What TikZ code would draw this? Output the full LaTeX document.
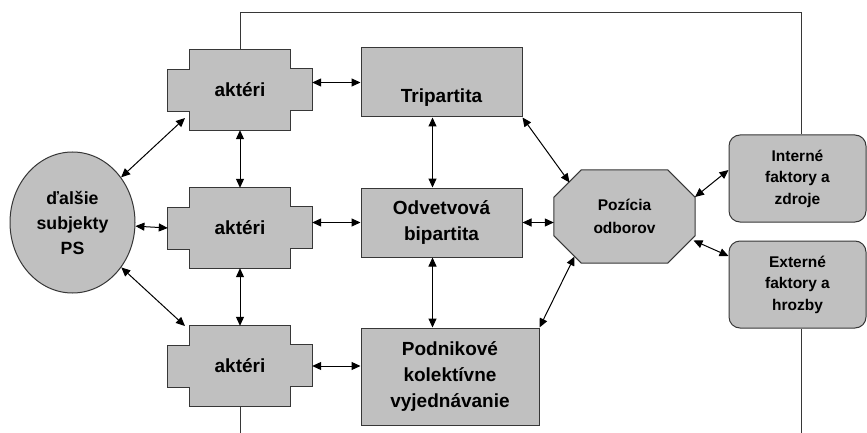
\documentclass[tikz,border=0pt]{standalone}
\usepackage{fontspec}
\setmainfont{Liberation Sans}
\usepackage{tikz}
\usepackage{xcolor}
\definecolor{boxgray}{RGB}{192,192,192}
\definecolor{edgegray}{RGB}{55,55,55}
\tikzset{box/.style={draw=edgegray, fill=boxgray, line width=1pt, align=center,
   inner sep=0pt, font=\bfseries\fontsize{19}{26}\selectfont},
 akt/.style={minimum width=144pt, minimum height=80pt, inner sep=0pt,
   font=\bfseries\fontsize{19}{26}\selectfont},
 fillline/.style={draw=edgegray, fill=boxgray, line width=1pt},
 ell/.style={box, ellipse, minimum width=125pt, minimum height=141pt,
   font=\bfseries\fontsize{17.7}{25}\selectfont},
 okt/.style={minimum width=141pt, minimum height=93pt, inner sep=0pt, align=center,
   font=\bfseries\fontsize{15.5}{23}\selectfont},
 rbox/.style={box, rounded corners=11pt, minimum width=137pt, minimum height=87pt,
   font=\bfseries\fontsize{15.5}{21.5}\selectfont},
 arr/.style={<->, >={Triangle[length=9pt,width=8pt]}, line width=1pt},
 fb/.style={draw=edgegray, line width=1pt},
 }
\usetikzlibrary{backgrounds}
\usetikzlibrary{shapes}
\usetikzlibrary{arrows.meta}

\begin{document}
\begin{tikzpicture}[x=1pt, y=-1pt]
        \useasboundingbox (0,0) rectangle (867,433);
        \node[akt] (akt1) at (240,90) {aktéri};
        \node[akt] (akt2) at (240,228) {aktéri};
        \node[akt] (akt3) at (240,366) {aktéri};
        \node[ell] (dalsie) at (72.5,222.5) {ďalšie\\subjekty\\PS};
        \node[box, minimum width=161pt, minimum height=69pt] (tri) at (441.5,82.5) {\strut\\Tripartita};
        \node[box, minimum width=161pt, minimum height=69pt] (odv) at (441.5,222.5) {Odvetvová\\bipartita};
        \node[box, minimum width=178pt, minimum height=97pt] (pod) at (450,376.5) {Podnikové\\kolektívne\\vyjednávanie};
        \node[okt] (poz) at (624.5,216.5) {Pozícia\\odborov};
        \node[rbox] (int) at (797.5,178.5) {Interné\\faktory a\\zdroje};
        \node[rbox] (ext) at (797.5,284.5) {Externé\\faktory a\\hrozby};
        \coordinate (dole1) at (240,433);
        \coordinate (dole2) at (801,433);
        \begin{scope}[on background layer]
        \draw[fillline] ([xshift=22pt]akt1.north west) -- ([xshift=-22pt]akt1.north east) -- ++(0,19) -- ++(22,0) -- ++(0,42) -- ++(-22,0)
            -- ([xshift=-22pt]akt1.south east) -- ([xshift=22pt]akt1.south west) -- ++(0,-19) -- ++(-22,0) -- ++(0,-42) -- ++(22,0) -- cycle;
        \draw[fillline] ([xshift=22pt]akt2.north west) -- ([xshift=-22pt]akt2.north east) -- ++(0,19) -- ++(22,0) -- ++(0,42) -- ++(-22,0)
            -- ([xshift=-22pt]akt2.south east) -- ([xshift=22pt]akt2.south west) -- ++(0,-19) -- ++(-22,0) -- ++(0,-42) -- ++(22,0) -- cycle;
        \draw[fillline] ([xshift=22pt]akt3.north west) -- ([xshift=-22pt]akt3.north east) -- ++(0,19) -- ++(22,0) -- ++(0,42) -- ++(-22,0)
            -- ([xshift=-22pt]akt3.south east) -- ([xshift=22pt]akt3.south west) -- ++(0,-19) -- ++(-22,0) -- ++(0,-42) -- ++(22,0) -- cycle;
        \draw[fillline] ([xshift=27.5pt]poz.north west) -- ([xshift=-27.5pt]poz.north east) -- ([yshift=-27.5pt]poz.north east)
            -- ([yshift=27.5pt]poz.south east) -- ([xshift=-27.5pt]poz.south east) -- ([xshift=27.5pt]poz.south west)
            -- ([yshift=27.5pt]poz.south west) -- ([yshift=-27.5pt]poz.north west) -- cycle;
        \end{scope}
        % spojenia
        \draw[arr] (dalsie) -- ([shift={(-55,28)}]akt1.center);
        \draw[arr] (dalsie) -- (akt2.west);
        \draw[arr] (dalsie) -- ([shift={(-55,-40)}]akt3.center);
        \draw[arr] (akt1) -- (akt2);
        \draw[arr] (akt2) -- (akt3);
        \draw[arr] (akt1.east |- tri.west) -- (tri.west);
        \draw[arr] (akt2.east |- odv.west) -- (odv.west);
        \draw[arr] (akt3.east) -- (akt3.east -| pod.west);
        \draw[arr] ([xshift=-9pt]tri.south) -- ([xshift=-9pt]odv.north);
        \draw[arr] ([xshift=-9pt]odv.south) -- ([xshift=-9pt]odv.south |- pod.north);
        \draw[arr] (tri.south east) -- ([shift={(-55,-34)}]poz.center);
        \draw[arr] (odv.east) -- (odv.east -| poz.west);
        \draw[arr] (pod.north east) -- ([shift={(-50,40)}]poz.center);
        \draw[arr] ([shift={(70.5,-19.5)}]poz.center) -- ([shift={(0,-8.5)}]int.west);
        \draw[arr] ([shift={(69,24)}]poz.center) -- ([shift={(0,-28.5)}]ext.west);
        % spatna vazba
        \draw[fb] (akt1.north) -- ++(0,-37) -| ([xshift=3.5pt]int.north);
        \draw[fb] ([xshift=3.5pt]ext.south) -- (dole2);
        \draw[fb] (akt3.south) -- (dole1);
    \end{tikzpicture}
\end{document}
